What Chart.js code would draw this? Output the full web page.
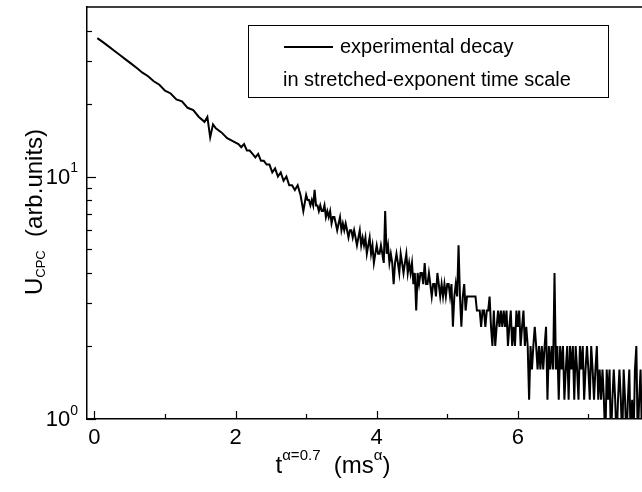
<!DOCTYPE html>
<html>
<head>
<meta charset="utf-8">
<script src="https://cdn.jsdelivr.net/npm/chart.js@4.4.0/dist/chart.umd.min.js"></script>
<style>
  html, body { margin: 0; padding: 0; background: #fff; overflow: hidden; }
</style>
</head>
<body>
<canvas id="decayChart" width="642" height="492"></canvas>
<script>
// t^alpha values (ms^alpha)
const timeValues = [
  0.04, 0.12, 0.20, 0.28, 0.36, 0.44, 0.52, 0.60, 0.68, 0.76, 0.84, 0.92, 1.00,
  1.08, 1.16, 1.24, 1.32, 1.40, 1.48, 1.56, 1.60, 1.64, 1.68, 1.72, 1.80, 1.88, 1.96,
  2.00, 2.04, 2.08, 2.12, 2.16, 2.20, 2.24, 2.28, 2.32, 2.36, 2.40, 2.44, 2.48,
  2.52, 2.56, 2.60, 2.64, 2.68, 2.72, 2.76, 2.80, 2.84, 2.88, 2.92, 2.96,
  3.00, 3.02, 3.04, 3.06, 3.08, 3.10, 3.12, 3.14, 3.16, 3.18,
  3.20, 3.22, 3.24, 3.26, 3.28, 3.30, 3.32, 3.34, 3.36, 3.38,
  3.40, 3.42, 3.44, 3.46, 3.48, 3.50, 3.52, 3.54, 3.56, 3.58,
  3.60, 3.62, 3.64, 3.66, 3.68, 3.70, 3.72, 3.74, 3.76, 3.78,
  3.80, 3.82, 3.84, 3.86, 3.88, 3.90, 3.92, 3.94, 3.96, 3.98,
  4.00, 4.02, 4.04, 4.06, 4.08, 4.10, 4.12, 4.14, 4.16, 4.18,
  4.20, 4.22, 4.24, 4.26, 4.28, 4.30, 4.32, 4.34, 4.36, 4.38,
  4.40, 4.42, 4.44, 4.46, 4.48, 4.50, 4.52, 4.54, 4.56, 4.58,
  4.60, 4.62, 4.64, 4.66, 4.68, 4.70, 4.72, 4.74, 4.76, 4.78,
  4.80, 4.82, 4.84, 4.86, 4.88, 4.90, 4.92, 4.94, 4.96, 4.98,
  5.00, 5.02, 5.04, 5.06, 5.08, 5.10, 5.12, 5.14, 5.16, 5.18,
  5.20, 5.22, 5.24, 5.26, 5.28, 5.30, 5.32, 5.34, 5.36, 5.38,
  5.40, 5.42, 5.44, 5.46, 5.48, 5.50, 5.52, 5.54, 5.56, 5.58,
  5.60, 5.62, 5.64, 5.66, 5.68, 5.70, 5.72, 5.74, 5.76, 5.78,
  5.80, 5.82, 5.84, 5.86, 5.88, 5.90, 5.92, 5.94, 5.96, 5.98,
  6.00, 6.02, 6.04, 6.06, 6.08, 6.10, 6.12, 6.14, 6.16, 6.18,
  6.20, 6.22, 6.24, 6.26, 6.28, 6.30, 6.32, 6.34, 6.36, 6.38,
  6.40, 6.42, 6.44, 6.46, 6.48, 6.50, 6.52, 6.54, 6.56, 6.58,
  6.60, 6.62, 6.64, 6.66, 6.68, 6.70, 6.72, 6.74, 6.76, 6.78,
  6.80, 6.82, 6.84, 6.86, 6.88, 6.90, 6.92, 6.94, 6.96, 6.98,
  7.00, 7.02, 7.04, 7.06, 7.08, 7.10, 7.12, 7.14, 7.16, 7.18,
  7.20, 7.22, 7.24, 7.26, 7.28, 7.30, 7.32, 7.34, 7.36, 7.38,
  7.40, 7.42, 7.44, 7.46, 7.48, 7.50, 7.52, 7.54, 7.56, 7.58,
  7.60, 7.62, 7.64, 7.66, 7.68, 7.70, 7.72, 7.74, 7.76, 7.78,
  7.80
];

// U_CPC (arb. units)
const signalValues = [
  37.2, 35.8, 34.4, 33.0, 31.7, 30.4, 29.2, 28.0, 26.8, 25.9, 24.7, 23.9, 22.6,
  22.0, 20.8, 20.4, 19.2, 18.8, 17.6, 16.8, 17.6, 14.5, 16.4, 15.8, 15.2, 14.4, 14.0,
  13.8, 13.6, 13.2, 13.6, 12.8, 12.8, 12.4, 12.0, 12.4, 11.6, 11.6, 11.2, 11.2,
  10.4, 10.8, 10.0, 10.4, 9.6, 10.0, 9.2, 9.2, 8.8, 9.2, 8.4, 7.2,
  8.4, 8.0, 8.0, 7.6, 8.0, 7.6, 8.8, 7.6, 7.6, 7.2,
  7.6, 7.2, 7.2, 7.6, 6.8, 7.2, 6.8, 7.2, 6.4, 6.8,
  6.8, 6.4, 6.0, 6.4, 6.8, 6.0, 6.4, 6.0, 6.4, 6.0,
  5.6, 6.0, 6.0, 5.6, 6.0, 5.6, 5.2, 5.6, 6.0, 5.2,
  5.6, 5.2, 5.6, 4.8, 5.2, 5.6, 4.8, 5.2, 4.4, 4.8,
  5.2, 4.8, 4.8, 5.2, 4.8, 4.4, 7.2, 4.8, 5.2, 4.4,
  4.8, 4.4, 3.6, 4.4, 4.8, 4.4, 4.0, 4.8, 4.4, 4.0,
  4.4, 4.8, 4.0, 4.4, 4.0, 4.4, 3.6, 4.0, 2.8, 4.0,
  3.6, 4.0, 4.0, 3.6, 4.4, 3.6, 3.6, 4.0, 3.6, 3.2,
  3.6, 3.6, 3.2, 4.0, 3.6, 3.2, 3.6, 3.2, 3.6, 3.2,
  3.6, 3.6, 3.2, 3.6, 2.4, 3.2, 3.6, 3.2, 5.2, 3.2,
  2.4, 3.2, 3.6, 2.8, 3.2, 3.2, 3.2, 3.2, 3.2, 3.2,
  3.2, 2.8, 2.8, 2.8, 2.4, 2.8, 2.8, 2.4, 2.8, 2.8,
  3.2, 2.4, 2.0, 2.8, 2.0, 2.4, 2.8, 2.4, 2.8, 2.4,
  2.8, 2.4, 2.8, 2.0, 2.4, 2.8, 2.0, 2.4, 2.0, 2.8,
  2.4, 2.8, 2.0, 2.4, 2.8, 2.0, 2.4, 2.0, 1.2, 2.0,
  1.6, 2.0, 2.4, 2.0, 1.6, 2.0, 1.6, 2.0, 1.6, 2.0,
  2.4, 1.2, 2.0, 1.6, 2.0, 1.6, 4.0, 1.6, 2.0, 1.2,
  2.0, 1.6, 2.0, 1.2, 1.6, 2.0, 1.2, 2.0, 1.6, 2.0,
  1.2, 2.0, 1.6, 1.2, 2.0, 1.6, 2.0, 1.2, 1.6, 2.0,
  1.6, 1.2, 2.0, 1.6, 1.2, 1.6, 2.0, 1.2, 1.6, 1.2,
  1.6, 1.2, 0.8, 1.6, 1.2, 1.6, 0.8, 1.2, 1.6, 1.2,
  0.8, 1.2, 1.6, 1.2, 0.8, 1.6, 1.2, 0.8, 1.2, 1.6,
  0.8, 1.2, 0.8, 1.6, 2.0, 0.8, 1.2, 1.6, 0.8, 1.2,
  0.8
];

const xTickValues = [0, 1, 2, 3, 4, 5, 6, 7];
const xTickLabels = ["0", "", "2", "", "4", "", "6", ""];
const yTickValues = [1, 2, 3, 4, 5, 6, 7, 8, 9, 10, 20, 30, 40];
const yMajorLabels = { 1: "0", 10: "1" }; // exponent shown after "10"

const legendLines = ["experimental decay", "in stretched-exponent time scale"];

const FONT = "'Liberation Sans', Arial, sans-serif";

function drawParts(ctx, parts, x, y, align) {
  // parts: [text, size, dy]
  let total = 0;
  parts.forEach((p) => {
    ctx.font = p[1] + "px " + FONT;
    total += ctx.measureText(p[0]).width;
  });

  let cx = x;
  if (align === "center") cx = x - total / 2;
  if (align === "right") cx = x - total;

  ctx.textAlign = "left";
  ctx.textBaseline = "middle";

  parts.forEach((p) => {
    ctx.font = p[1] + "px " + FONT;
    ctx.fillText(p[0], cx, y + p[2]);
    cx += ctx.measureText(p[0]).width;
  });
}

const decorPlugin = {
  id: "decor",
  afterDraw(chart) {
    const ctx = chart.ctx;
    const area = chart.chartArea;
    const xScale = chart.scales.x;
    const yScale = chart.scales.y;

    ctx.save();
    ctx.strokeStyle = "#000";
    ctx.fillStyle = "#000";

    // top frame line
    ctx.lineWidth = 1.5;
    ctx.beginPath();
    ctx.moveTo(area.left, area.top);
    ctx.lineTo(area.right, area.top);
    ctx.stroke();

    // inward ticks, y axis
    ctx.lineWidth = 1.2;
    yTickValues.forEach((v) => {
      const py = Math.round(yScale.getPixelForValue(v)) + 0.5;
      const len = yMajorLabels[v] ? 9 : 5;
      ctx.beginPath();
      ctx.moveTo(area.left, py);
      ctx.lineTo(area.left + len, py);
      ctx.stroke();
    });

    // inward ticks, x axis
    xTickValues.forEach((v, i) => {
      const px = Math.round(xScale.getPixelForValue(v)) + 0.5;
      const len = xTickLabels[i] ? 8 : 5;
      ctx.beginPath();
      ctx.moveTo(px, area.bottom);
      ctx.lineTo(px, area.bottom - len);
      ctx.stroke();
    });

    // x tick labels
    xTickValues.forEach((v, i) => {
      if (!xTickLabels[i]) return;
      drawParts(ctx, [[xTickLabels[i], 22, 0]], xScale.getPixelForValue(v), area.bottom + 19, "center");
    });

    // y tick labels (10^n)
    yTickValues.forEach((v) => {
      if (!yMajorLabels[v]) return;
      const py = yScale.getPixelForValue(v);
      drawParts(ctx, [["10", 22, 1], [yMajorLabels[v], 14, -8]], area.left - 9, py, "right");
    });

    // x axis title
    drawParts(
      ctx,
      [["t", 24, 0], ["\u03b1=0.7", 15, -10], ["  (ms", 24, 0], ["\u03b1", 15, -10], [")", 24, 0]],
      333,
      area.bottom + 47,
      "center"
    );

    // y axis title
    ctx.save();
    ctx.translate(35, 212);
    ctx.rotate(-Math.PI / 2);
    drawParts(ctx, [["U", 24, 0], ["CPC", 13, 6], ["  (arb.units)", 24, 0]], 0, 0, "center");
    ctx.restore();

    // legend box
    ctx.lineWidth = 1;
    ctx.strokeRect(248.5, 25.5, 360, 72);
    ctx.lineWidth = 2;
    ctx.beginPath();
    ctx.moveTo(284, 47);
    ctx.lineTo(333, 47);
    ctx.stroke();
    drawParts(ctx, [[legendLines[0], 20, 0]], 340, 47, "left");
    drawParts(ctx, [[legendLines[1], 20, 0]], 283, 80, "left");

    ctx.restore();
  },
};

const decayChart = new Chart(document.getElementById("decayChart"), {
  type: "line",
  data: {
    datasets: [
      {
        label: legendLines[0],
        data: timeValues.map((t, i) => ({ x: t, y: signalValues[i] })),
        borderColor: "#000000",
        borderWidth: 2,
        pointRadius: 0,
        tension: 0,
        fill: false,
      },
    ],
  },
  options: {
    responsive: false,
    animation: false,
    devicePixelRatio: 1,
    layout: {
      padding: { left: 87, top: 7, right: 0, bottom: 73 },
    },
    plugins: {
      legend: { display: false },
      tooltip: { enabled: false },
    },
    scales: {
      x: {
        type: "linear",
        min: -0.106,
        max: 7.76,
        grid: { display: false, drawTicks: false },
        border: { display: true, color: "#000", width: 1.5 },
        ticks: { display: false },
        afterBuildTicks: (scale) => {
          scale.ticks = xTickValues.map((v) => ({ value: v }));
        },
      },
      y: {
        type: "logarithmic",
        min: 1,
        max: 50,
        grid: { display: false, drawTicks: false },
        border: { display: true, color: "#000", width: 1.5 },
        ticks: { display: false },
        afterBuildTicks: (scale) => {
          scale.ticks = yTickValues.map((v) => ({ value: v }));
        },
      },
    },
  },
  plugins: [decorPlugin],
});
</script>
</body>
</html>
